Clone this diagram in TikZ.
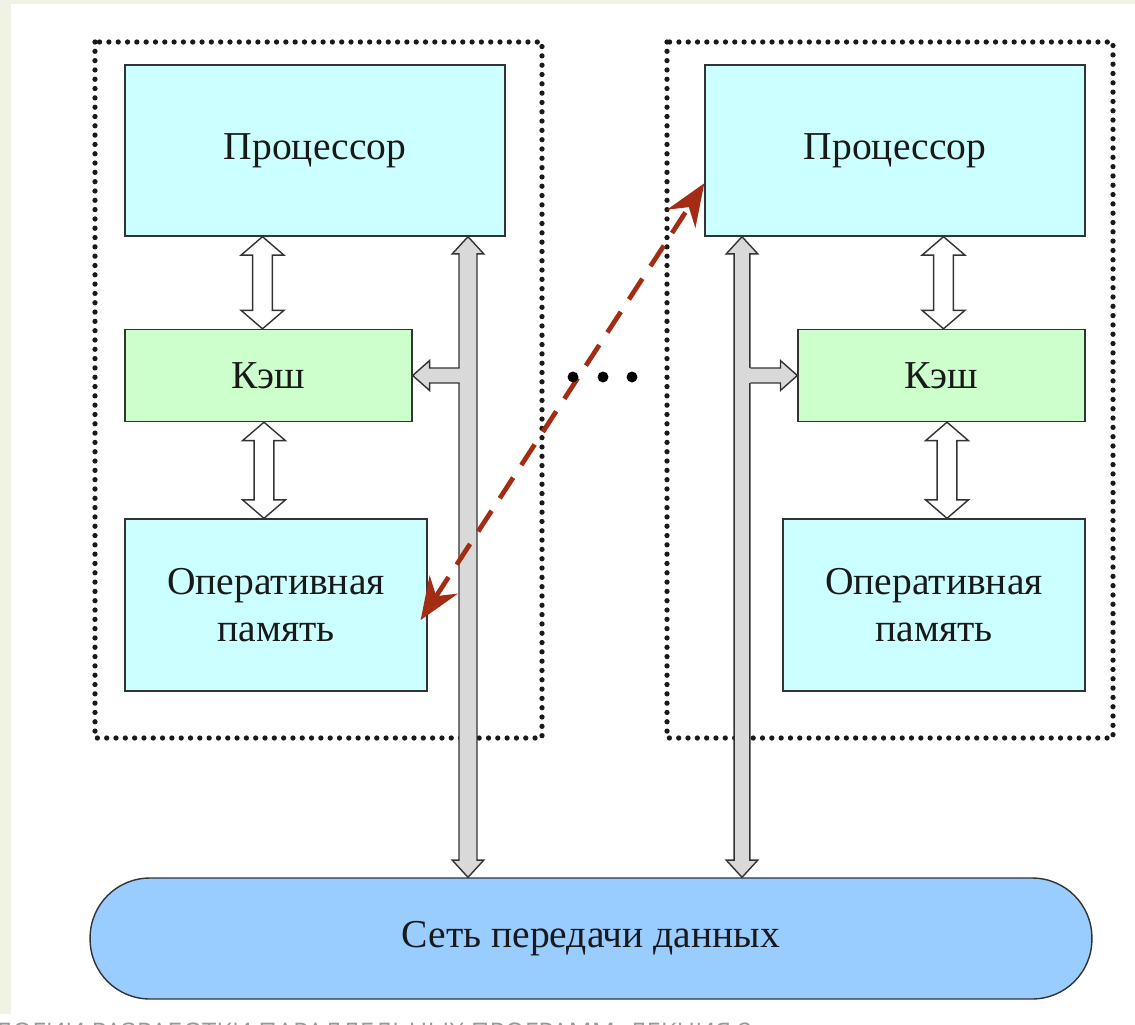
\documentclass[tikz,border=0pt]{standalone}
\usepackage{fontspec}
\setmainfont{Liberation Serif}
\newfontfamily\footfont{Open Sans}
\usetikzlibrary{arrows.meta,calc}

\definecolor{proccol}{HTML}{CCFFFF}
\definecolor{cachecol}{HTML}{CCFFCC}
\definecolor{netcol}{HTML}{99CCFF}
\definecolor{buscol}{HTML}{D9D9D9}
\definecolor{linkcol}{HTML}{A32D14}
\definecolor{pagecol}{HTML}{EFF2E4}

% hollow double block arrow: x from #3, top y from #2, bottom y from #3
\newcommand{\dblarrow}[6][]{%
  \draw[#1] let \p1=#2, \p2=#3 in
    (\x2,\y1) -- (\x2+#5,\y1-#6) -- (\x2+#4,\y1-#6) -- (\x2+#4,\y2+#6)
    -- (\x2+#5,\y2+#6) -- (\x2,\y2) -- (\x2-#5,\y2+#6) -- (\x2-#4,\y2+#6)
    -- (\x2-#4,\y1-#6) -- (\x2-#5,\y1-#6) -- cycle;}
% branch from a bus to a cache, #3 = 1 (to the left) or -1 (to the right)
\newcommand{\sidearrow}[3]{%
  \fill[buscol] let \p1=#1, \p2=#2, \n1={#3*9.6pt}, \n2={#3*4.8pt} in
    (\x1,\y1) -- (\x1+\n1,\y1+8.5pt) -- (\x1+\n1,\y1+4.25pt)
    -- (\x2,\y1+4.25pt) -- (\x2,\y1-4.25pt) -- (\x1+\n1,\y1-4.25pt)
    -- (\x1+\n1,\y1-8.5pt) -- cycle;
  \draw[edge] let \p1=#1, \p2=#2, \n1={#3*9.6pt}, \n2={#3*4.8pt} in
    (\x2-\n2,\y1+4.25pt) -- (\x1+\n1,\y1+4.25pt)
    -- (\x1+\n1,\y1+8.5pt) -- (\x1,\y1) -- (\x1+\n1,\y1-8.5pt)
    -- (\x1+\n1,\y1-4.25pt) -- (\x2-\n2,\y1-4.25pt);}

\begin{document}
\begin{tikzpicture}[x=0.02cm, y=-0.02cm,
  edge/.style={draw=black!80, line width=0.8pt, line join=miter},
  unit/.style={edge, inner sep=0pt, align=center, text=black!90,
    font=\fontsize{22.5}{26.6}\selectfont},
  procbox/.style={unit, fill=proccol, minimum width=7.6cm, minimum height=3.42cm},
  cachebox/.style={unit, fill=cachecol, minimum width=5.74cm, minimum height=1.84cm},
  membox/.style={unit, fill=proccol, minimum width=6.04cm, minimum height=3.44cm},
  netbox/.style={unit, fill=netcol, minimum width=20.04cm, minimum height=2.42cm,
    rounded corners=34pt},
  dotbox/.style={black!90, line width=3pt, line cap=round, dash pattern=on 0pt off 5.3pt},
  busarrow/.style={edge, fill=buscol},
  linkarrow/.style={edge, fill=white},
  link/.style={linkcol, line width=2.7pt, dash pattern=on 14pt off 8.5pt,
    {Stealth[length=24pt,width=19pt]}-{Stealth[length=24pt,width=19pt]}}]
\useasboundingbox (0,0) rectangle (1135,1024);
\fill[pagecol] (0,0) rectangle (1135,1024);
\fill[white] (11,4) rectangle (1135,1014);
\fill[white] (0,1014) rectangle (1135,1024);

% two computing nodes
\draw[dotbox] (95,42) rectangle (542,738);
\draw[dotbox] (667,42) rectangle (1113,738);

\node[procbox] (proc1) at (315,150.5) {Процессор};
\node[cachebox] (cache1) at (268.5,375.5) {Кэш};
\node[membox] (mem1) at (276,605) {Оперативная\\память};

\node[procbox] (proc2) at (895,150.5) {Процессор};
\node[cachebox] (cache2) at (941.5,375.5) {Кэш};
\node[membox] (mem2) at (934,605) {Оперативная\\память};

\node[netbox] (net) at (591,938.5) {Сеть передачи данных};

% buses
\coordinate (bus1) at (468,500);
\coordinate (bus2) at (742,500);
\dblarrow[busarrow]{(proc1.south)}{(net.north -| bus1)}{5.1pt}{9pt}{9.8pt}
\dblarrow[busarrow]{(proc2.south)}{(net.north -| bus2)}{4.5pt}{9pt}{9.8pt}
\sidearrow{(cache1.east)}{(bus1)}{1}
\sidearrow{(cache2.west)}{(bus2)}{-1}

% processor - cache - memory
\dblarrow[linkarrow]{(proc1.south)}{($(cache1.north)+(-6,0)$)}{5.6pt}{12.2pt}{10.5pt}
\dblarrow[linkarrow]{(cache1.south)}{($(mem1.north)+(-12,0)$)}{5.6pt}{12.2pt}{10.5pt}
\dblarrow[linkarrow]{(proc2.south)}{($(cache2.north)+(2,0)$)}{5.6pt}{12.2pt}{10.5pt}
\dblarrow[linkarrow]{(cache2.south)}{($(mem2.north)+(13,0)$)}{5.6pt}{12.2pt}{10.5pt}

% remote access
\draw[link] ([shift={(-7,15)}]mem1.east) -- ($(proc2.north west)!0.69!(proc2.south west)$);

\foreach \x/\n in {573/1,603/2,632/3}
  \node[circle, fill, inner sep=2.2pt] (dot\n) at (\x,377) {};

\node[anchor=base east, inner sep=0pt, text=black!40,
  font=\footfont\fontsize{14.6}{18}\selectfont] (footer)
  at (753,1041) {ТЕХНОЛОГИИ РАЗРАБОТКИ ПАРАЛЛЕЛЬНЫХ ПРОГРАММ. ЛЕКЦИЯ 2};
\end{tikzpicture}
\end{document}
